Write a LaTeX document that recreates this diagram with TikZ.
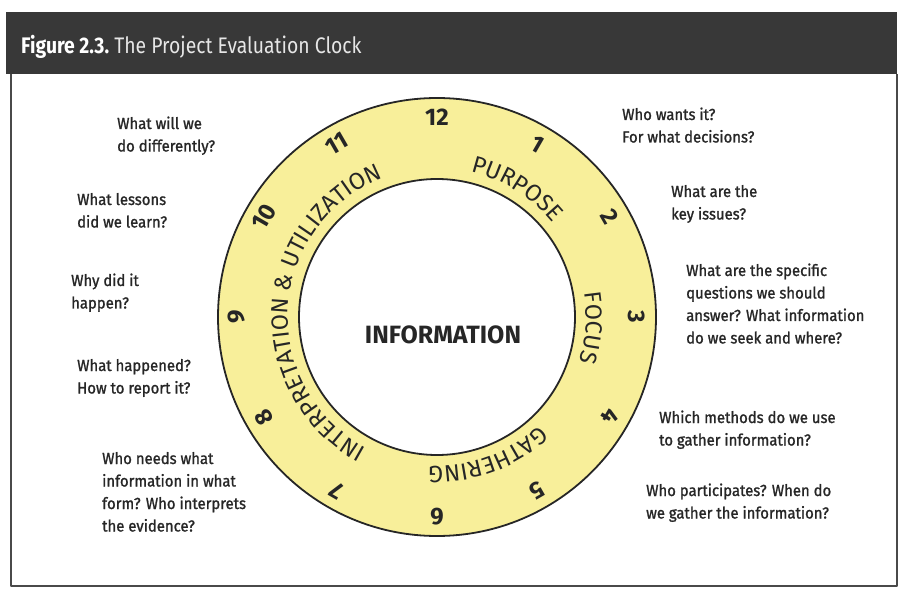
\documentclass[tikz,border=0pt]{standalone}
\usepackage{fontspec}
\setmainfont{Fira Sans}
\newfontfamily\qfont[FakeStretch=0.93,FakeBold=1.2]{Fira Sans}
\newfontfamily\hfont[FakeStretch=0.86]{Fira Sans}
\newfontfamily\ringfam{Fira Sans}
\usetikzlibrary{decorations.text}
\definecolor{hdr}{HTML}{383838}
\definecolor{ringfill}{HTML}{F8EF9A}
\definecolor{ink}{HTML}{262626}
\definecolor{framec}{HTML}{4A4A4A}
\definecolor{hdrtext}{HTML}{E6E6E6}
\newcommand{\ringfont}{\ringfam\fontsize{23.5}{23.5}\selectfont}
\begin{document}
\begin{tikzpicture}[x=1pt,y=1pt,line join=round,
  qtext/.style={anchor=base west,align=left,text=ink,inner sep=0pt,
    font=\qfont\fontsize{16}{22.5}\selectfont},
  numlabel/.style={text=ink,inner sep=0pt,font=\fontsize{24}{24}\selectfont\bfseries},
  ringline/.style={draw=ink,line width=1.8pt},
  ringword/.style={decorate,decoration={text along path,text align=center,text color=ink}}
]
\useasboundingbox (0,0) rectangle (904,592);
\fill[white] (0,0) rectangle (904,592);
\coordinate (c) at (437,275);
% frame and header
\draw[framec,line width=1.4pt] (11,518) -- (11,6) -- (897,6) -- (897,518);
\fill[hdr] (6,518) rectangle (897,580);
\node[anchor=base west,inner sep=0pt,font=\hfont\fontsize{22.5}{22.5}\selectfont] (title) at (21,538)
  {\textcolor{white}{\bfseries Figure 2.3.}\ \textcolor{hdrtext}{The Project Evaluation Clock}};
% ring
\fill[ringfill,even odd rule] (c) circle[radius=219pt] (c) circle[radius=138pt];
\draw[ringline] (c) circle[radius=219pt];
\draw[ringline] (c) circle[radius=138pt];
% clock numbers
\foreach \k in {1,...,12}
  \node[numlabel,rotate=-30*\k] (n\k) at ([shift={({90-30*\k}:200pt)}]c) {\k};
% ring words
\path[ringword,decoration={text={|\ringfont|PURPOSE}}]
  ([shift={(98:149pt)}]c) arc[start angle=98,end angle=18,radius=149pt];
\path[ringword,decoration={text={|\ringfont|FOCUS}}]
  ([shift={(36:149pt)}]c) arc[start angle=36,end angle=-44,radius=149pt];
\path[ringword,decoration={text={|\ringfont|GATHERING}}]
  ([shift={(-20:149pt)}]c) arc[start angle=-20,end angle=-120,radius=149pt];
\path[ringword,decoration={text={|\ringfont|INTERPRETATION {\&} UTILIZATION}}]
  ([shift={(266:149pt)}]c) arc[start angle=266,end angle=87,radius=149pt];
% centre
\node[text=ink,inner sep=0pt,font=\fontsize{25}{25}\selectfont\bfseries] (info) at (443,257) {INFORMATION};
% questions left (anchor = baseline of last line)
\node[qtext] (q11) at (117,440.5) {What will we\\do differently?};
\node[qtext] (q10) at (77,364.5) {What lessons\\did we learn?};
\node[qtext] (q9) at (71,283.5) {Why did it\\happen?};
\node[qtext] (q8) at (77,198.5) {What happened?\\How to report it?};
\node[qtext] (q7) at (102,60.5) {Who needs what\\information in what\\form? Who interprets\\the evidence?};
% questions right
\node[qtext] (q1) at (622,449.5) {Who wants it?\\For what decisions?};
\node[qtext] (q2) at (671,372.5) {What are the\\key issues?};
\node[qtext] (q3) at (686,248.5) {What are the specific\\questions we should\\answer? What information\\do we seek and where?};
\node[qtext] (q4) at (659,146.5) {Which methods do we use\\to gather information?};
\node[qtext] (q5) at (646,73.5) {Who participates? When do\\we gather the information?};
\end{tikzpicture}
\end{document}
